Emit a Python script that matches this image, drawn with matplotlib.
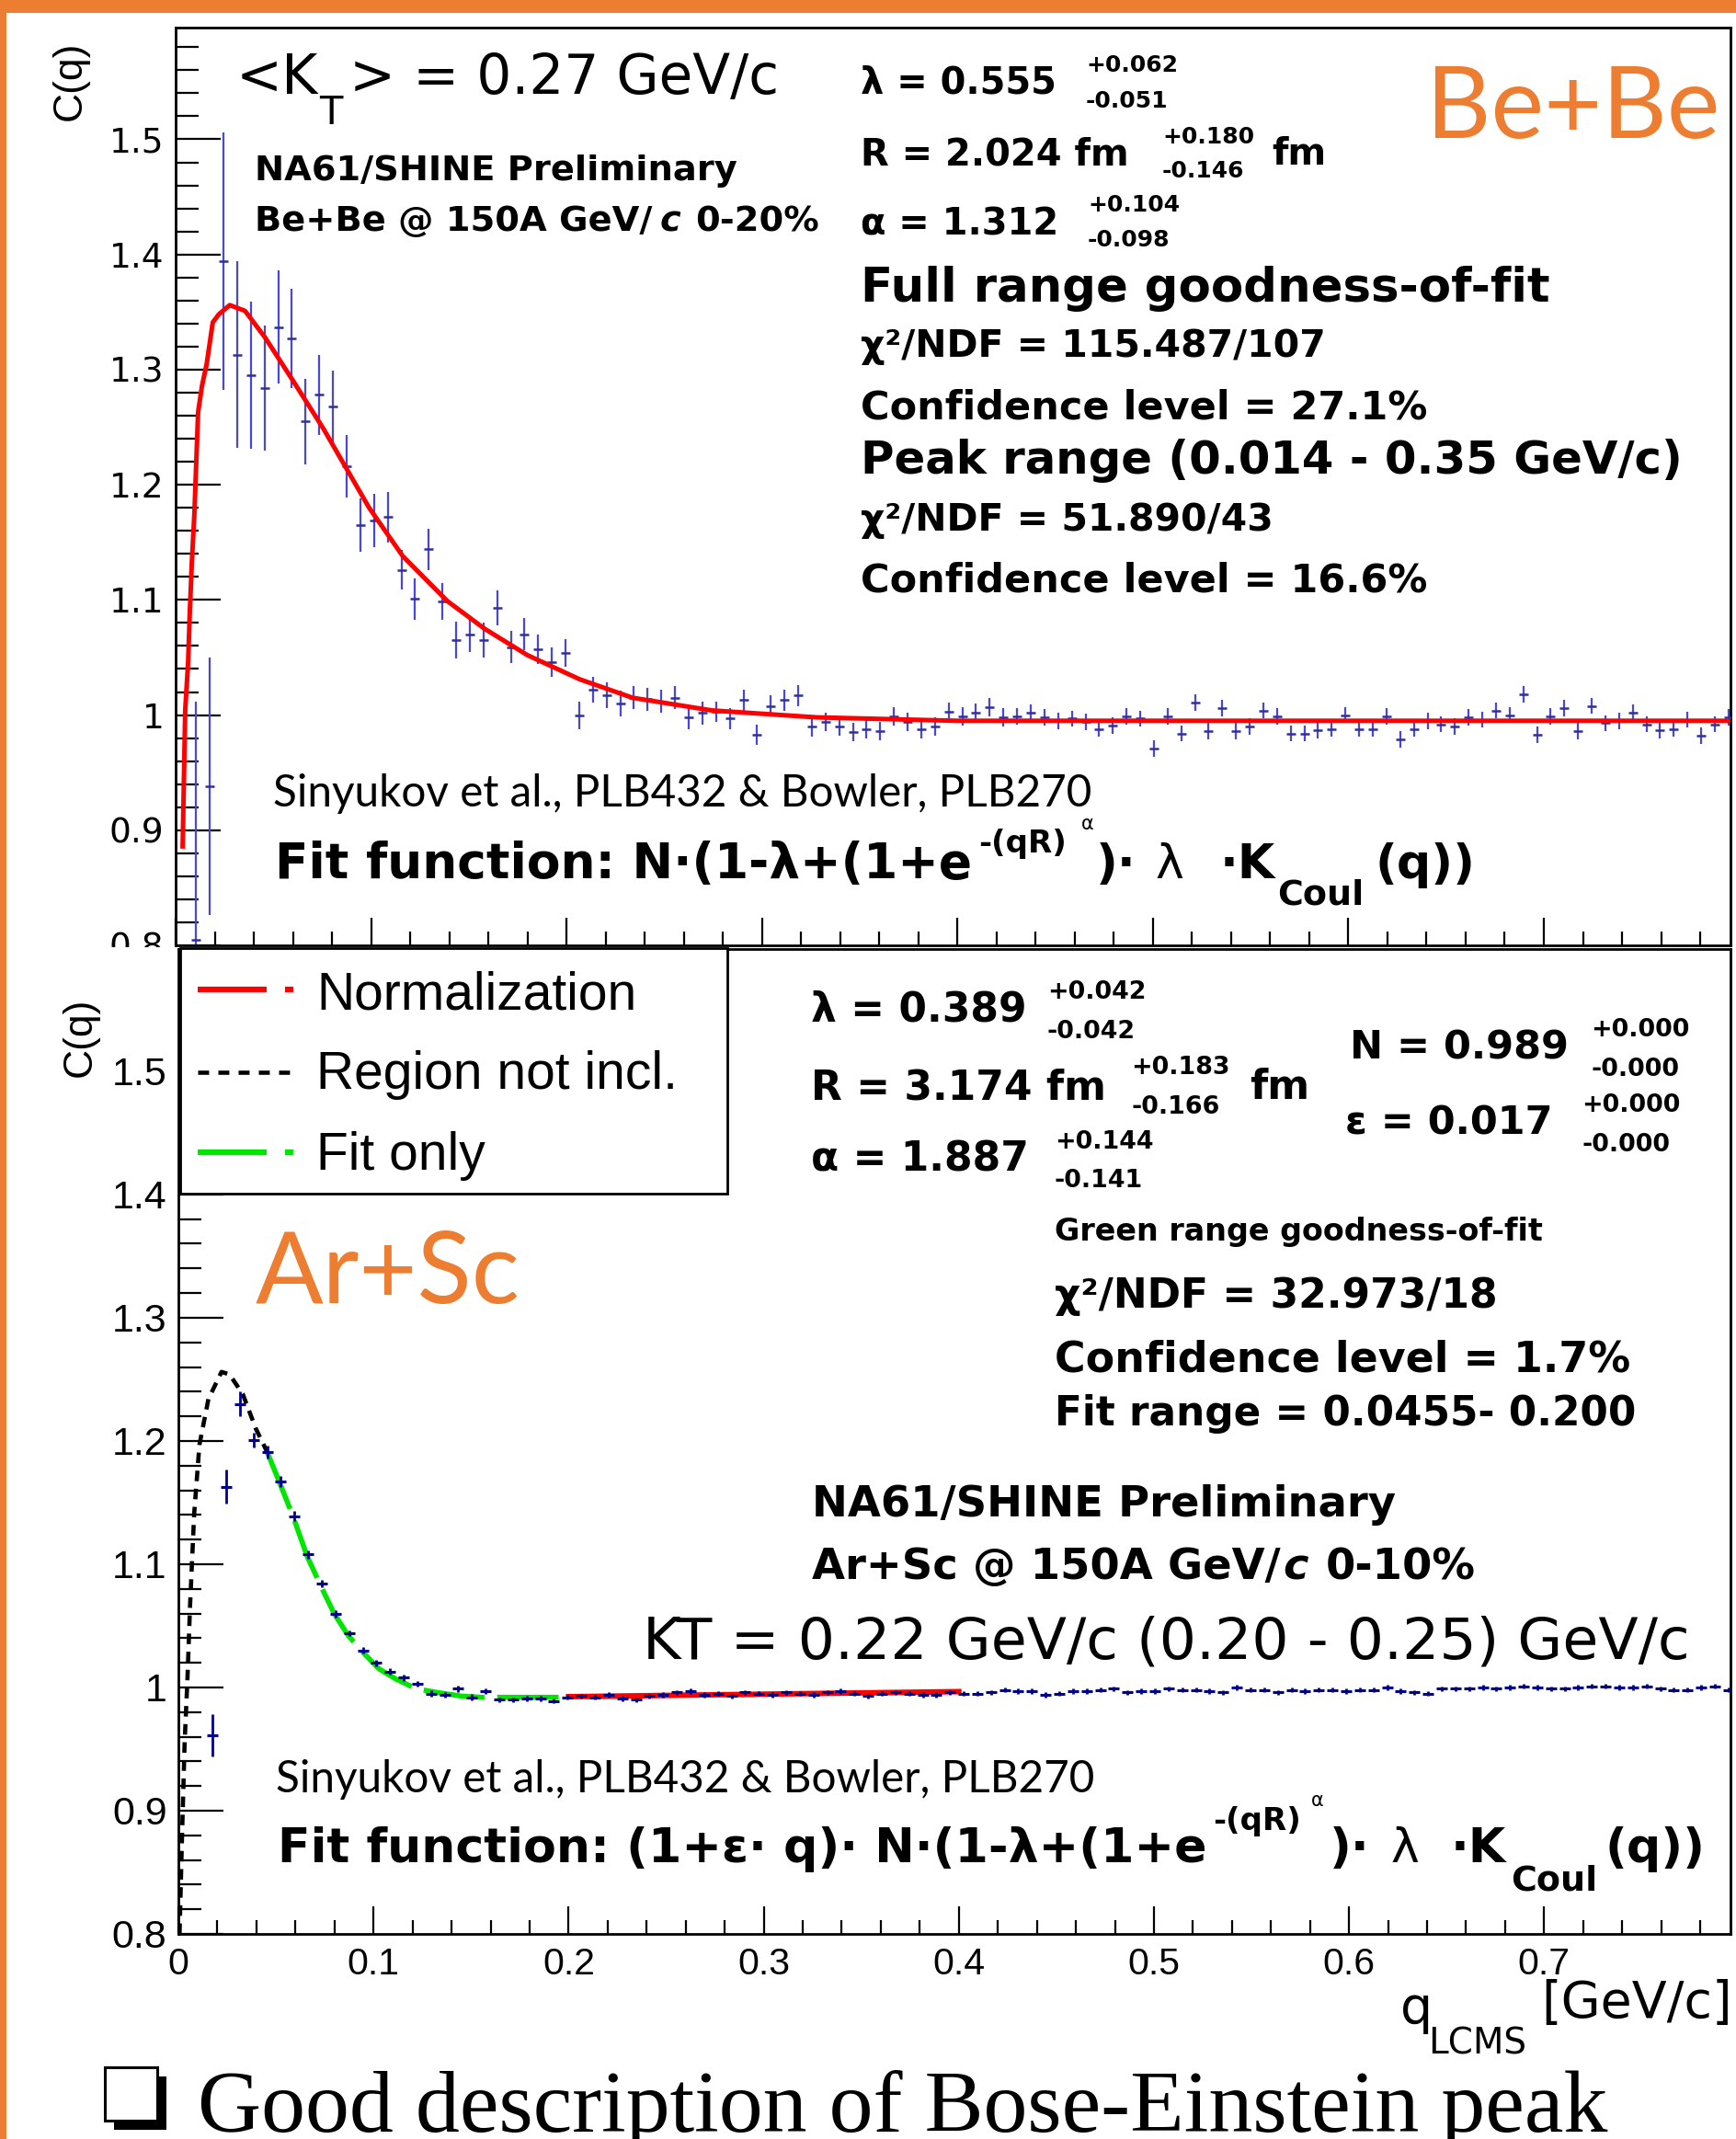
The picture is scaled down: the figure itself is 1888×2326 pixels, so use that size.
import numpy as np
import matplotlib
matplotlib.use("Agg")
import matplotlib.pyplot as plt
from matplotlib.patches import Rectangle
from matplotlib.lines import Line2D
from matplotlib.ticker import MultipleLocator, FuncFormatter

W, H = 1888, 2326
ORANGE = "#ED7D31"
BIN = 0.007
XMAX = 0.7955

# ---- Be+Be 150A GeV/c 0-20%, bins k = 1..113 (centre 0.0035 + 0.007 k)
bebe_c = [0.805, 0.938, 1.394, 1.313, 1.295, 1.284, 1.337, 1.327, 1.255, 1.278,
          1.268, 1.216, 1.165, 1.169, 1.172, 1.126, 1.101, 1.144, 1.099, 1.065,
          1.070, 1.065, 1.093, 1.059, 1.070, 1.057, 1.046, 1.054, 1.000, 1.022,
          1.017, 1.010, 1.015, 1.014, 1.012, 1.015, 0.998, 1.002, 1.003, 0.997,
          1.013, 0.983, 1.008, 1.013, 1.017, 0.990, 0.994, 0.990, 0.985, 0.988,
          0.986, 0.999, 0.994, 0.988, 0.990, 1.003, 0.999, 1.002, 1.007, 0.998,
          0.999, 1.002, 0.998, 0.995, 0.997, 0.994, 0.988, 0.991, 0.999, 0.997,
          0.971, 0.999, 0.984, 1.011, 0.986, 1.006, 0.986, 0.990, 1.004, 0.999,
          0.984, 0.984, 0.987, 0.988, 1.000, 0.988, 0.988, 0.999, 0.979, 0.988,
          0.995, 0.992, 0.990, 0.998, 0.996, 1.004, 1.000, 1.018, 0.983, 0.999,
          1.006, 0.986, 1.008, 0.993, 0.995, 1.002, 0.992, 0.987, 0.988, 0.996,
          0.982, 0.992, 0.998]
bebe_err = [0.207, 0.112, 0.112, 0.081, 0.064, 0.054, 0.049, 0.043, 0.037, 0.035,
            0.031, 0.027, 0.023, 0.023, 0.022, 0.017, 0.018, 0.018, 0.016, 0.016,
            0.015, 0.015, 0.015, 0.014, 0.014, 0.013, 0.013, 0.012, 0.012, 0.011,
            0.011, 0.011, 0.010, 0.010, 0.010, 0.010, 0.010, 0.010, 0.009, 0.009,
            0.009, 0.009, 0.009, 0.009, 0.009, 0.009, 0.008, 0.008, 0.008, 0.008,
            0.008, 0.008, 0.008, 0.008, 0.008, 0.008, 0.008, 0.008, 0.008, 0.008,
            0.007, 0.007, 0.007, 0.007, 0.007, 0.007, 0.007, 0.007, 0.007, 0.007,
            0.007, 0.007, 0.007, 0.007, 0.007, 0.007, 0.007, 0.007, 0.007, 0.007,
            0.007, 0.007, 0.007, 0.007, 0.007, 0.007, 0.007, 0.007, 0.007, 0.007,
            0.007, 0.007, 0.007, 0.007, 0.007, 0.007, 0.007, 0.007, 0.007, 0.007,
            0.007, 0.007, 0.007, 0.007, 0.007, 0.007, 0.007, 0.007, 0.007, 0.007,
            0.007, 0.007, 0.007]
# fit curve
bebe_fit_q = [0.0036, 0.0049, 0.0064, 0.0072, 0.0083, 0.0096, 0.0108, 0.0115, 0.0135, 0.0159,
              0.0190, 0.0221, 0.0277, 0.0355, 0.0457, 0.0598, 0.0755, 0.0864, 0.0990, 0.1162,
              0.1390, 0.1580, 0.1800, 0.2068, 0.2338, 0.2744, 0.3280, 0.4000, 0.6000, 0.7955]
bebe_fit_c = [0.886, 1.004, 1.046, 1.087, 1.133, 1.175, 1.231, 1.263, 1.286, 1.305,
              1.341, 1.348, 1.356, 1.351, 1.328, 1.291, 1.249, 1.217, 1.180, 1.138,
              1.099, 1.075, 1.052, 1.031, 1.015, 1.004, 0.998, 0.995, 0.995, 0.995]

# ---- Ar+Sc 150A GeV/c 0-10%, bins k = 2..113
arsc_c = [0.961, 1.163, 1.230, 1.201, 1.191, 1.167, 1.139, 1.108, 1.084, 1.060,
          1.044, 1.030, 1.020, 1.013, 1.008, 1.003, 0.995, 0.994, 0.999, 0.992,
          0.997, 0.990, 0.990, 0.991, 0.991, 0.989, 0.992, 0.993, 0.992, 0.994,
          0.991, 0.990, 0.993, 0.994, 0.996, 0.997, 0.994, 0.995, 0.993, 0.996,
          0.995, 0.994, 0.996, 0.995, 0.994, 0.996, 0.997, 0.995, 0.993, 0.995,
          0.996, 0.995, 0.994, 0.994, 0.996, 0.995, 0.995, 0.996, 0.998, 0.997,
          0.997, 0.994, 0.995, 0.997, 0.997, 0.998, 0.999, 0.996, 0.997, 0.997,
          0.999, 0.998, 0.998, 0.997, 0.996, 1.000, 0.998, 0.998, 0.996, 0.998,
          0.997, 0.998, 0.998, 0.997, 0.998, 0.998, 1.000, 0.997, 0.996, 0.995,
          0.999, 0.999, 0.999, 1.000, 0.999, 1.000, 1.001, 1.000, 0.999, 0.999,
          1.000, 1.001, 1.001, 1.000, 1.000, 1.001, 0.999, 0.998, 0.998, 1.000,
          1.001, 0.998]
arsc_err = [0.017, 0.014, 0.010, 0.006, 0.005, 0.0045, 0.004, 0.0035, 0.003, 0.003,
            0.0025, 0.0025, 0.0025, 0.0025, 0.0025, 0.0025, 0.0025, 0.0025, 0.0025, 0.0025,
            0.002, 0.002, 0.002, 0.002, 0.002, 0.002, 0.002, 0.002, 0.002, 0.002,
            0.002, 0.002, 0.002, 0.002, 0.002, 0.002, 0.002, 0.002, 0.002, 0.002,
            0.002, 0.002, 0.002, 0.002, 0.002, 0.002, 0.002, 0.002, 0.002, 0.002,
            0.002, 0.002, 0.002, 0.002, 0.002, 0.002, 0.002, 0.002, 0.002, 0.002,
            0.002, 0.002, 0.002, 0.002, 0.002, 0.002, 0.002, 0.002, 0.002, 0.002,
            0.002, 0.002, 0.002, 0.002, 0.002, 0.002, 0.002, 0.002, 0.002, 0.002,
            0.002, 0.002, 0.002, 0.002, 0.002, 0.002, 0.002, 0.002, 0.002, 0.002,
            0.002, 0.002, 0.002, 0.002, 0.002, 0.002, 0.002, 0.002, 0.002, 0.002,
            0.002, 0.002, 0.002, 0.002, 0.002, 0.002, 0.002, 0.002, 0.002, 0.002,
            0.002, 0.002]
arsc_dot_q = [0.0006, 0.0019, 0.0032, 0.0046, 0.0060, 0.0081, 0.0108, 0.0154, 0.0221,
              0.0262, 0.0330, 0.0397, 0.0455]
arsc_dot_c = [0.800, 0.881, 0.955, 1.005, 1.067, 1.141, 1.197, 1.234, 1.256,
              1.254, 1.238, 1.210, 1.191]
arsc_fit_q = [0.0455, 0.0514, 0.0587, 0.0661, 0.0734, 0.0798, 0.0871, 0.0955, 0.1029,
              0.1113, 0.1218, 0.1323, 0.1449, 0.1554, 0.1764, 0.2000]
arsc_fit_c = [1.191, 1.168, 1.139, 1.106, 1.081, 1.060, 1.042, 1.027, 1.015,
              1.007, 0.999, 0.996, 0.993, 0.992, 0.992, 0.992]
arsc_norm_q = [0.2, 0.4]
arsc_norm_c = [0.9925, 0.9966]

bebe_q = 0.0035 + BIN * np.arange(1, 1 + len(bebe_c))
arsc_q = 0.0035 + BIN * np.arange(2, 2 + len(arsc_c))

fig = plt.figure(figsize=(W / 100, H / 100), dpi=100)


def box(l, t, r, b):
    return [l / W, 1 - b / H, (r - l) / W, (b - t) / H]


def put(x, y, s, size, family="DejaVu Sans", weight="normal", **kw):
    kw.setdefault("ha", "left")
    kw.setdefault("va", "baseline")
    fig.text(x / W, 1 - y / H, s, fontsize=size, family=family, weight=weight, **kw)


def fline(xs, ys, **kw):
    fig.add_artist(Line2D([x / W for x in xs], [1 - y / H for y in ys],
                          transform=fig.transFigure, **kw))


def frect(l, t, r, b, **kw):
    fig.add_artist(Rectangle((l / W, 1 - b / H), (r - l) / W, (b - t) / H,
                             transform=fig.transFigure, **kw))


def style(ax, ylo, yhi, font, yfs, xfs):
    ax.set_xlim(0, XMAX)
    ax.set_ylim(ylo, yhi)
    ax.xaxis.set_major_locator(MultipleLocator(0.1))
    ax.xaxis.set_minor_locator(MultipleLocator(0.02))
    ax.yaxis.set_major_locator(MultipleLocator(0.1))
    ax.yaxis.set_minor_locator(MultipleLocator(0.02))
    fmt = FuncFormatter(lambda v, p: "%g" % round(v, 3))
    ax.xaxis.set_major_formatter(fmt)
    ax.yaxis.set_major_formatter(fmt)
    ax.tick_params(axis="y", which="major", direction="in", length=35, width=1.6,
                   pad=9, labelsize=yfs, labelfontfamily=font)
    ax.tick_params(axis="y", which="minor", direction="in", length=18, width=1.6)
    ax.tick_params(axis="x", which="major", direction="in", length=21.6, width=1.6,
                   pad=10, labelsize=xfs, labelfontfamily=font)
    ax.tick_params(axis="x", which="minor", direction="in", length=10.8, width=1.6)
    for sp in ax.spines.values():
        sp.set_linewidth(2)


# ---------------- top panel: Be+Be
ax1 = fig.add_axes(box(191, 30, 1882, 1028))
ax1.set_zorder(0)
style(ax1, 0.8, 1.597, "DejaVu Sans", 27, 27)
ax1.tick_params(axis="x", labelbottom=False)
ax1.errorbar(bebe_q, bebe_c, yerr=bebe_err, fmt="none", ecolor="#4848d4",
             elinewidth=1.6, capsize=0, zorder=2)
ax1.plot(bebe_q, bebe_c, ls="none", marker="_", ms=7, mew=1.8, color="#30309c", zorder=3)
ax1.plot(bebe_fit_q, bebe_fit_c, color="red", lw=3.6, zorder=4)

# white area of the second picture, hiding the lower edge of the first one
frect(8, 1030, W, H, facecolor="white", edgecolor="none", zorder=0.5)

# ---------------- bottom panel: Ar+Sc
ax2 = fig.add_axes(box(194, 1031.5, 1882, 2103))
ax2.set_zorder(1)
style(ax2, 0.8, 1.5995, "Liberation Sans", 31, 29.5)
ax2.plot(arsc_dot_q, arsc_dot_c, color="black", lw=3.3, ls=(0, (2.5, 1.8)), zorder=2)
ax2.plot(arsc_fit_q, arsc_fit_c, color="#00e600", lw=4, ls=(0, (12, 2.5)), zorder=2)
ax2.plot(arsc_norm_q, arsc_norm_c, color="red", lw=4.3, zorder=2)
ax2.errorbar(arsc_q, arsc_c, yerr=arsc_err, fmt="_", ms=8, mew=2.2, elinewidth=2.0,
             color="#00008b", capsize=0, zorder=3)

# legend of the bottom panel
frect(196, 1031.5, 790.5, 1298.5, facecolor="white", edgecolor="black", lw=2, zorder=4)
fline([215, 290], [1076, 1076], color="red", lw=4.5, solid_capstyle="butt", zorder=5)
fline([310, 319], [1076, 1076], color="red", lw=4.5, solid_capstyle="butt", zorder=5)
fline([215, 316], [1166, 1166], color="black", lw=3.3, ls=(0, (2.6, 2.2)), zorder=5)
fline([215, 290], [1253, 1253], color="#00e600", lw=4.5, solid_capstyle="butt", zorder=5)
fline([310, 319], [1253, 1253], color="#00e600", lw=4.5, solid_capstyle="butt", zorder=5)
put(344, 1098, "Normalization", 41, "Liberation Sans", zorder=6)
put(344, 1184, "Region not incl.", 41, "Liberation Sans", zorder=6)
put(344, 1272, "Fit only", 41, "Liberation Sans", zorder=6)

# ---------------- texts, top panel
put(257, 102, "<K", 43)
put(347, 135, "T", 30)
put(380, 102, "> = 0.27 GeV/c", 43)
put(277, 196, "NA61/SHINE Preliminary", 27.6, weight="bold")
put(277, 251, "Be+Be @ 150A GeV/", 27.6, weight="bold")
put(718, 251, "c", 27.6, weight="bold", style="italic")
put(756, 251, "0-20%", 27.6, weight="bold")

put(936, 102, "λ = 0.555", 28.8, weight="bold")
put(1181, 78, "+0.062", 18, weight="bold")
put(1181, 117, "-0.051", 18, weight="bold")
put(936, 179, "R = 2.024 fm", 28.8, weight="bold")
put(1264, 156, "+0.180", 18, weight="bold")
put(1264, 193, "-0.146", 18, weight="bold")
put(1383, 179, "fm", 28.8, weight="bold")
put(936, 255, "α = 1.312", 28.8, weight="bold")
put(1183, 230, "+0.104", 18, weight="bold")
put(1183, 268, "-0.098", 18, weight="bold")
put(936, 328, "Full range goodness-of-fit", 37, weight="bold")
put(936, 388, "χ²/NDF = 115.487/107", 29.5, weight="bold")
put(936, 455, "Confidence level = 27.1%", 31, weight="bold")
put(936, 515, "Peak range (0.014 - 0.35 GeV/c)", 35.8, weight="bold")
put(936, 577, "χ²/NDF = 51.890/43", 29.5, weight="bold")
put(936, 644, "Confidence level = 16.6%", 31, weight="bold")

put(1551, 150, "Be+Be", 78.5, "Lato", color=ORANGE)
put(297, 877, "Sinyukov et al., PLB432 & Bowler, PLB270", 34.3, "Lato")
put(299, 955, "Fit function: N·(1-λ+(1+e", 38.4, weight="bold")
put(1064, 927, "-(qR)", 24.5, weight="bold")
put(1176, 902, "α", 15)
put(1192, 955, ")·", 37.5, weight="bold")
put(1257, 955, "λ", 37.5)
put(1327, 955, "·K", 37.5, weight="bold")
put(1389, 983, "Coul", 27.4, weight="bold")
put(1496, 955, "(q))", 37.5, weight="bold")

# ---------------- texts, bottom panel
put(882, 1111, "λ = 0.389", 31.7, weight="bold")
put(1139, 1086, "+0.042", 19.4, weight="bold")
put(1139, 1129, "-0.042", 19.4, weight="bold")
put(882, 1195, "R = 3.174 fm", 31.7, weight="bold")
put(1230, 1168, "+0.183", 19.4, weight="bold")
put(1230, 1211, "-0.166", 19.4, weight="bold")
put(1359, 1195, "fm", 31.7, weight="bold")
put(882, 1274, "α = 1.887", 31.7, weight="bold")
put(1147, 1249, "+0.144", 19.4, weight="bold")
put(1147, 1291, "-0.141", 19.4, weight="bold")
put(1468, 1152, "N = 0.989", 31, weight="bold")
put(1730, 1127, "+0.000", 19.4, weight="bold")
put(1730, 1170, "-0.000", 19.4, weight="bold")
put(1463, 1234, "ε = 0.017", 31, weight="bold")
put(1720, 1209, "+0.000", 19.4, weight="bold")
put(1720, 1252, "-0.000", 19.4, weight="bold")
put(1147, 1349, "Green range goodness-of-fit", 24, weight="bold")
put(1147, 1422, "χ²/NDF = 32.973/18", 31.7, weight="bold")
put(1147, 1491, "Confidence level = 1.7%", 33, weight="bold")
put(1147, 1550, "Fit range = 0.0455- 0.200", 31.5, weight="bold")
put(883, 1649, "NA61/SHINE Preliminary", 33.5, weight="bold")
put(883, 1717, "Ar+Sc @ 150A GeV/", 33.5, weight="bold")
put(1395, 1717, "c", 33.5, weight="bold", style="italic")
put(1442, 1717, "0-10%", 33.5, weight="bold")
put(699, 1803, "KT = 0.22 GeV/c (0.20 - 0.25) GeV/c", 45.5)

put(278, 1417, "Ar+Sc", 78.5, "Lato", color=ORANGE)
put(300, 1949, "Sinyukov et al., PLB432 & Bowler, PLB270", 34.3, "Lato")
put(302, 2025, "Fit function: (1+ε· q)· N·(1-λ+(1+e", 37.5, weight="bold")
put(1319, 1990, "-(qR)", 24.5, weight="bold")
put(1426, 1964, "α", 15)
put(1446, 2025, ")·", 37.5, weight="bold")
put(1512, 2025, "λ", 37.5)
put(1578, 2025, "·K", 37.5, weight="bold")
put(1643, 2055, "Coul", 27.4, weight="bold")
put(1746, 2025, "(q))", 37.5, weight="bold")

# axis titles
put(76, 88, "C(q)", 32, "Liberation Sans", rotation=90, ha="center", va="center")
put(87, 1128, "C(q)", 32, "Liberation Sans", rotation=90, ha="center", va="center")
put(1523, 2200, "q", 40)
put(1553, 2233, "LCMS", 28)
put(1676, 2194, "[GeV/c]", 40)

# slide bullet
frect(124, 2258, 181, 2316, facecolor="black", edgecolor="none", zorder=7)
frect(114, 2248, 171, 2306, facecolor="white", edgecolor="black", lw=2.2, zorder=8)
put(215, 2318, "Good description of Bose-Einstein peak", 69, "Liberation Serif")

# orange slide frame
frect(0, 0, 7, H, facecolor=ORANGE, edgecolor="none", zorder=10)
frect(0, 0, W, 14, facecolor=ORANGE, edgecolor="none", zorder=10)

fig.savefig("out.png", dpi=100)
